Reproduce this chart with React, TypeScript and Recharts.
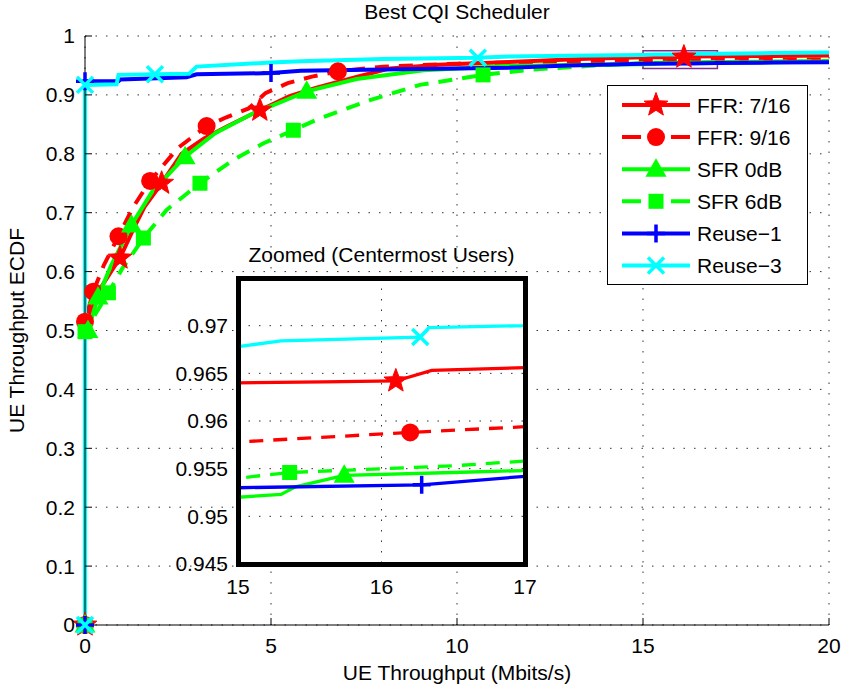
import React from 'react';
import {
  ComposedChart,
  Line,
  XAxis,
  YAxis,
  CartesianGrid,
  ReferenceArea,
  Legend,
} from 'recharts';

const FONT = '"Liberation Sans", Arial, Helvetica, sans-serif';

// axis ticks
const xTicks = [0, 5, 10, 15, 20];
const yTicks = [0, 0.1, 0.2, 0.3, 0.4, 0.5, 0.6, 0.7, 0.8, 0.9, 1];
const zoomXTicks = [15, 16, 17];
const zoomYTicks = [0.945, 0.95, 0.955, 0.96, 0.965, 0.97];

// FFR 7/16
const ffr716X = [0, 0, 0.15, 0.4, 0.7, 0.94, 1.3, 1.6, 2.06, 2.6, 3.2, 3.8, 4.7, 5.5, 6.2, 7.4, 8.2, 9.5, 11.4, 13.5, 15, 15.6, 16.1, 16.35, 17, 18.5, 20];
const ffr716Y = [0, 0.5, 0.53, 0.57, 0.6, 0.623, 0.672, 0.71, 0.75, 0.8, 0.826, 0.846, 0.874, 0.898, 0.912, 0.932, 0.945, 0.951, 0.956, 0.9615, 0.964, 0.9641, 0.9642, 0.9653, 0.9656, 0.966, 0.9668];
const ffr716Marks = [0, 5, 8, 12, 22];
const ffr716ZoomMarks = [22];

// FFR 9/16
const ffr916X = [0, 0, 0.22, 0.5, 0.9, 1.3, 1.75, 2.5, 3.27, 3.8, 4.4, 4.85, 5.45, 6.1, 6.8, 8, 10, 12, 15, 16.2, 17, 18.5, 20];
const ffr916Y = [0, 0.515, 0.566, 0.61, 0.66, 0.71, 0.754, 0.81, 0.847, 0.862, 0.877, 0.903, 0.92, 0.931, 0.94, 0.948, 0.953, 0.956, 0.9578, 0.9588, 0.9594, 0.9598, 0.9602];
const ffr916Marks = [0, 1, 2, 4, 6, 8, 14];
const ffr916ZoomMarks = [19];

// SFR 0dB
const sfr0X = [0, 0, 0.08, 0.35, 0.7, 1.25, 1.8, 2.69, 3.5, 4.5, 5.96, 7.3, 9.1, 11.4, 13.5, 15, 15.3, 15.4, 15.74, 16.5, 17, 18.5, 20];
const sfr0Y = [0, 0.49, 0.5, 0.557, 0.61, 0.679, 0.735, 0.795, 0.835, 0.868, 0.906, 0.927, 0.942, 0.949, 0.951, 0.952, 0.9523, 0.9531, 0.9543, 0.9546, 0.9548, 0.9555, 0.9565];
const sfr0Marks = [0, 2, 3, 5, 7, 10];
const sfr0ZoomMarks = [18];

// SFR 6dB
const sfr6X = [0, 0, 0.3, 0.63, 1.0, 1.57, 2.2, 3.09, 4.0, 4.8, 5.6, 6.3, 7.66, 9.0, 10.7, 12, 13.5, 15, 15.36, 16.5, 17, 18.5, 20];
const sfr6Y = [0, 0.498, 0.53, 0.564, 0.605, 0.657, 0.705, 0.75, 0.79, 0.818, 0.84, 0.86, 0.891, 0.917, 0.934, 0.943, 0.949, 0.954, 0.9546, 0.9553, 0.9558, 0.9565, 0.9575];
const sfr6Marks = [0, 1, 3, 5, 7, 10, 14];
const sfr6ZoomMarks = [18];

// Reuse-1
const reuse1X = [0, 0, 0.9, 0.95, 2.73, 3.0, 5.0, 5.8, 8, 11.4, 13, 15, 16.28, 17, 18.5, 20];
const reuse1Y = [0, 0.923, 0.923, 0.926, 0.93, 0.935, 0.937, 0.941, 0.943, 0.946, 0.95, 0.953, 0.9533, 0.9542, 0.9548, 0.9555];
const reuse1Marks = [0, 1, 6];
const reuse1ZoomMarks = [12];

// Reuse-3
const reuse3X = [0, 0, 0.85, 0.9, 1.88, 2.8, 3.0, 5.0, 5.8, 8, 10.56, 11.4, 13, 15, 15.3, 16.27, 16.33, 17, 18.5, 20];
const reuse3Y = [0, 0.917, 0.918, 0.934, 0.935, 0.936, 0.948, 0.955, 0.957, 0.961, 0.963, 0.965, 0.9665, 0.9678, 0.9684, 0.9688, 0.9698, 0.97, 0.971, 0.9718];
const reuse3Marks = [0, 1, 4, 10];
const reuse3ZoomMarks = [15];

type Kind = 'star' | 'circle' | 'tri' | 'square' | 'plus' | 'x';

const series = [
  { name: 'FFR: 7/16', xs: ffr716X, ys: ffr716Y, marks: ffr716Marks, zoomMarks: ffr716ZoomMarks, color: '#ff0000', dashed: false, kind: 'star' as Kind },
  { name: 'FFR: 9/16', xs: ffr916X, ys: ffr916Y, marks: ffr916Marks, zoomMarks: ffr916ZoomMarks, color: '#ff0000', dashed: true, kind: 'circle' as Kind },
  { name: 'SFR 0dB', xs: sfr0X, ys: sfr0Y, marks: sfr0Marks, zoomMarks: sfr0ZoomMarks, color: '#00ff00', dashed: false, kind: 'tri' as Kind },
  { name: 'SFR 6dB', xs: sfr6X, ys: sfr6Y, marks: sfr6Marks, zoomMarks: sfr6ZoomMarks, color: '#00ff00', dashed: true, kind: 'square' as Kind },
  { name: 'Reuse\u22121', xs: reuse1X, ys: reuse1Y, marks: reuse1Marks, zoomMarks: reuse1ZoomMarks, color: '#0000ff', dashed: false, kind: 'plus' as Kind },
  { name: 'Reuse\u22123', xs: reuse3X, ys: reuse3Y, marks: reuse3Marks, zoomMarks: reuse3ZoomMarks, color: '#00ffff', dashed: false, kind: 'x' as Kind },
].map((s) => ({
  ...s,
  data: s.xs.map((x, i) => ({ x, y: s.ys[i], m: s.marks.includes(i) })),
  zoomData: s.xs.map((x, i) => ({ x, y: s.ys[i], m: s.zoomMarks.includes(i) })),
}));

function starPoints(cx: number, cy: number, R: number) {
  const pts: string[] = [];
  for (let i = 0; i < 10; i++) {
    const r = i % 2 === 0 ? R : R * 0.42;
    const a = -Math.PI / 2 + (i * Math.PI) / 5;
    pts.push(`${cx + r * Math.cos(a)},${cy + r * Math.sin(a)}`);
  }
  return pts.join(' ');
}

const Marker = ({ kind, cx, cy, color }: { kind: Kind; cx: number; cy: number; color: string }) => {
  switch (kind) {
    case 'star':
      return <polygon points={starPoints(cx, cy, 12.5)} fill={color} stroke={color} strokeWidth={1} />;
    case 'circle':
      return <circle cx={cx} cy={cy} r={9} fill={color} />;
    case 'tri':
      return <polygon points={`${cx},${cy - 11} ${cx + 10.5},${cy + 7.5} ${cx - 10.5},${cy + 7.5}`} fill={color} />;
    case 'square':
      return <rect x={cx - 7.5} y={cy - 7.5} width={15} height={15} fill={color} />;
    case 'plus':
      return <path d={`M${cx - 9},${cy}H${cx + 9}M${cx},${cy - 9}V${cy + 9}`} stroke={color} strokeWidth={3.5} fill="none" />;
    default:
      return <path d={`M${cx - 8},${cy - 8}L${cx + 8},${cy + 8}M${cx - 8},${cy + 8}L${cx + 8},${cy - 8}`} stroke={color} strokeWidth={3.5} fill="none" />;
  }
};

const dotFor = (kind: Kind, color: string) => (p: any) => {
  if (!p.payload || !p.payload.m || p.cx == null || p.cy == null) return <g key={p.index} />;
  return (
    <g key={p.index}>
      <Marker kind={kind} cx={p.cx} cy={p.cy} color={color} />
    </g>
  );
};

const LegendBox = () => (
  <svg width={201} height={201} style={{ display: 'block', fontFamily: FONT }}>
    <rect x={0.5} y={0.5} width={200} height={199} fill="#fff" stroke="#000" />
    {series.map((s, i) => {
      const cy = 20 + i * 32.1;
      return (
        <g key={s.name}>
          <line x1={15} x2={83} y1={cy} y2={cy} stroke={s.color} strokeWidth={4} strokeDasharray={s.dashed ? '19 30' : undefined} />
          <Marker kind={s.kind} cx={49} cy={cy} color={s.color} />
          <text x={90} y={cy} dy="0.36em" fontSize={21} fill="#000">{s.name}</text>
        </g>
      );
    })}
  </svg>
);

const tickStyle = { fill: '#000', fontSize: 21, fontFamily: FONT };

export default function App() {
  return (
    <div style={{ position: 'fixed', left: 0, top: 0, width: 847, height: 694, background: '#fff', fontFamily: FONT }}>
      <div style={{ position: 'absolute', left: 85, top: 0, width: 744, textAlign: 'center', fontSize: 21, lineHeight: '24px' }}>
        Best CQI Scheduler
      </div>
      <ComposedChart width={847} height={694} margin={{ top: 36, right: 18, bottom: 29, left: 0 }}>
        <CartesianGrid stroke="#333" strokeDasharray="1.5 9" />
        <XAxis
          type="number"
          dataKey="x"
          domain={[0, 20]}
          ticks={xTicks}
          height={40}
          tickSize={-7}
          tickMargin={20}
          stroke="#000"
          tick={tickStyle}
          label={{ value: 'UE Throughput (Mbits/s)', position: 'bottom', offset: 0, fill: '#000', fontSize: 21 }}
        />
        <YAxis
          type="number"
          domain={[0, 1]}
          ticks={yTicks}
          width={85}
          tickSize={-7}
          tickMargin={17}
          stroke="#000"
          tick={tickStyle}
          label={{ value: 'UE Throughput ECDF', angle: -90, position: 'insideLeft', offset: 17, fill: '#000', fontSize: 21, style: { textAnchor: 'middle' } }}
        />
        {series.map((s) => (
          <Line
            key={s.name}
            data={s.data}
            dataKey="y"
            type="linear"
            stroke={s.color}
            strokeWidth={4}
            strokeDasharray={s.dashed ? '14 10' : undefined}
            dot={dotFor(s.kind, s.color)}
            activeDot={false}
            isAnimationActive={false}
          />
        ))}
        <ReferenceArea x1={15} x2={17} y1={0.945} y2={0.975} fill="none" stroke="#7e2f8e" strokeWidth={1.5} />
        <Legend
          layout="vertical"
          align="center"
          verticalAlign="middle"
          wrapperStyle={{ left: 607, top: 85, width: 201, height: 201 }}
          content={() => <LegendBox />}
        />
      </ComposedChart>

      <div style={{ position: 'absolute', left: 238, top: 243, width: 287, textAlign: 'center', fontSize: 21, lineHeight: '24px' }}>
        Zoomed (Centermost Users)
      </div>
      <div style={{ position: 'absolute', left: 130, top: 240 }}>
        <ComposedChart width={420} height={370} margin={{ top: 38, right: 25, bottom: 16, left: 0 }}>
          <CartesianGrid fill="#fff" fillOpacity={1} stroke="#333" strokeDasharray="1.5 9" />
          <XAxis
            type="number"
            dataKey="x"
            domain={[15, 17]}
            allowDataOverflow
            ticks={zoomXTicks}
            height={30}
            tickLine={false}
            axisLine={false}
            tickSize={8}
            tickMargin={7}
            tick={tickStyle}
          />
          <YAxis
            type="number"
            domain={[0.945, 0.975]}
            allowDataOverflow
            ticks={zoomYTicks}
            width={108}
            tickLine={false}
            axisLine={false}
            tickSize={6}
            tickMargin={4}
            tick={tickStyle}
          />
          {series.map((s) => (
            <Line
              key={s.name}
              data={s.zoomData}
              dataKey="y"
              type="linear"
              stroke={s.color}
              strokeWidth={3.3}
              strokeDasharray={s.dashed ? '14 10' : undefined}
              dot={dotFor(s.kind, s.color)}
              activeDot={false}
              isAnimationActive={false}
            />
          ))}
        </ComposedChart>
      </div>
      <div
        style={{
          position: 'absolute',
          left: 235.5,
          top: 275.5,
          width: 292,
          height: 291,
          border: '5px solid #000',
          boxSizing: 'border-box',
          pointerEvents: 'none',
        }}
      />
    </div>
  );
}
